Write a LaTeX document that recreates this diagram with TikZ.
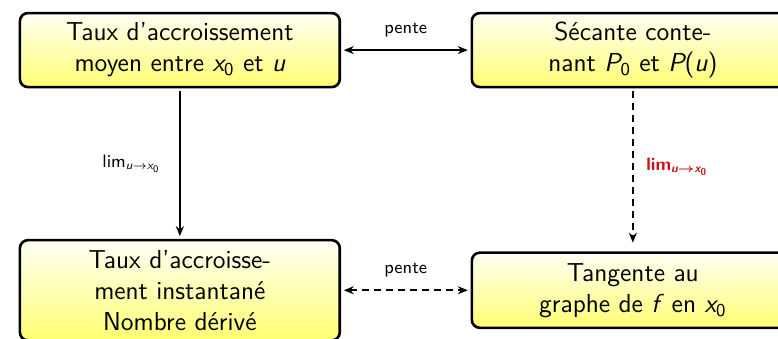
\documentclass[tikz,border=0pt]{standalone}
\renewcommand{\familydefault}{\sfdefault}
% sans serif maths, slanted letters
\SetSymbolFont{operators}{normal}{TU}{lmss}{m}{n}
\SetSymbolFont{letters}{normal}{TU}{lmss}{m}{sl}
\SetSymbolFont{operators}{bold}{TU}{lmss}{bx}{n}
\SetSymbolFont{letters}{bold}{TU}{lmss}{bx}{sl}
\usetikzlibrary{arrows.meta}
\definecolor{limred}{RGB}{200,20,20}

\begin{document}
\begin{tikzpicture}
[
	bx/.style={rectangle,draw,rounded corners=4pt,line width=1.3pt,top color=yellow!4,bottom color=yellow!55,align=center,font=\fontsize{13}{15.5}\selectfont,minimum width=5.62cm,minimum height=1.3cm,inner sep=2pt,outer sep=2pt},
	lbl/.style={font=\small},
	redlbl/.style={font=\small\bfseries\boldmath,text=limred},
	dsh/.style={dash pattern=on 3.5pt off 2.5pt},
	>={Stealth[length=5pt,width=4pt]}
]

\useasboundingbox (0,0) rectangle (13.67,-5.94);

\node[bx] (taux) at (3.16,-0.88) {Taux d'accroissement\\moyen entre $x_0$ et $u$};
\node[bx,minimum width=5.66cm] (sec) at (11.12,-0.88) {S\'ecante conte-\\nant $P_0$ et $P(u)$};
\node[bx,minimum height=1.76cm] (der) at (3.16,-5.10) {Taux d'accroisse-\\ment instantan\'e\\Nombre d\'eriv\'e};
\node[bx,minimum width=5.66cm,minimum height=1.32cm] (tan) at (11.12,-5.10) {Tangente au\\graphe de $f\,$ en $x_0$};

\draw[thick,<->] (taux) -- node[lbl,above=3pt] {pente} (sec);
\draw[thick,<->,dsh] (der) -- node[lbl,above=3pt] {pente} (tan);

\draw[thick,->] (taux) -- node[lbl,left=6pt] {$\lim_{u\to x_0}$} (der);
\draw[thick,->,dsh] (sec) -- node[redlbl,right=3pt] {$\lim_{u\to x_0}$} ([yshift=3pt]tan.north);

\end{tikzpicture}
\end{document}
